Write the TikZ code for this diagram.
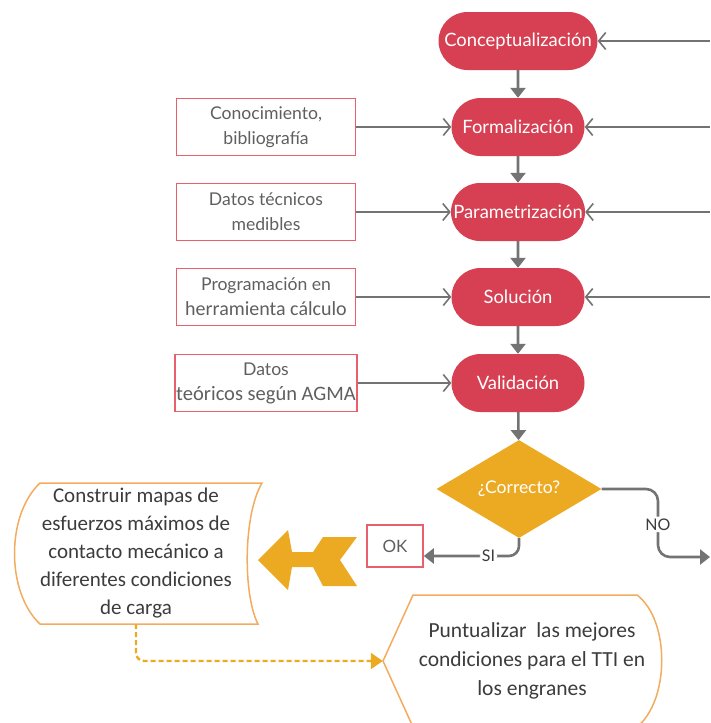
\documentclass[tikz,border=0pt]{standalone}
\usepackage{fontspec}
\setmainfont{Lato}
\newfontfamily\calfont{Carlito}
\usetikzlibrary{shapes.geometric,shapes.misc,arrows.meta}
\definecolor{pillred}{RGB}{214,64,82}
\definecolor{boxred}{RGB}{232,96,108}
\definecolor{arrgray}{RGB}{115,115,115}
\definecolor{txtgray}{RGB}{95,95,95}
\definecolor{darktxt}{RGB}{60,60,60}
\definecolor{gold}{RGB}{236,170,34}
\definecolor{lightorange}{RGB}{243,172,95}
\begin{document}
\begin{tikzpicture}[x=1pt,y=-1pt,
  pillbox/.style={rounded rectangle, fill=pillred, text=white,
    font=\fontsize{18.4}{20}\selectfont, minimum height=58pt, inner xsep=2pt},
  inbox/.style={draw=boxred, line width=1.6pt, minimum width=179pt,
    minimum height=57pt, align=center, text=txtgray,
    font=\fontsize{17.6}{25}\selectfont, inner sep=1pt},
  inarrow/.style={draw=arrgray, line width=2.4pt,
    -{Straight Barb[length=7pt,width=17pt,line width=1.6pt]}},
  downarrow/.style={draw=arrgray, line width=2.6pt,
    -{Triangle[length=10pt,width=15pt]}},
  lbl/.style={fill=white, text=darktxt, inner sep=2pt,
    font=\fontsize{16}{18}\selectfont},
  outline/.style={draw=lightorange, line width=1.5pt},
  dashline/.style={draw=gold, line width=2.4pt, dash pattern=on 5pt off 3pt,
    rounded corners=8pt, -{Triangle[length=12pt,width=16pt]}}
]
\useasboundingbox (0,0) rectangle (710,723);

% main pills
\node[pillbox, minimum width=163pt] (C) at (518,41) {Conceptualización};
\node[pillbox, minimum width=137pt] (F) at (518,127) {Formalización};
\node[pillbox, minimum width=138pt] (P) at (518,212) {Parametrización};
\node[pillbox, minimum width=137pt] (S) at (518,297) {Solución};
\node[pillbox, minimum width=137pt] (V) at (518,383) {Validación};

% input boxes
\node[inbox] (B1) at (266,127) {Conocimiento,\\bibliografía};
\node[inbox] (B2) at (266,212) {Datos técnicos\\medibles};
\node[inbox] (B3) at (266,297) {Programación en\\{\calfont\fontsize{20}{25}\selectfont herramienta cálculo}};
\node[inbox] (B4) at (266,383) {Datos\\{\calfont\fontsize{20.5}{25}\selectfont teóricos según AGMA}};

% right-side entry points
\coordinate (R1) at (710,41);
\coordinate (R2) at (710,127);
\coordinate (R3) at (710,212);
\coordinate (R4) at (710,297);

\draw[inarrow] (R1) -- (C.east);
\draw[inarrow] (R2) -- (F.east);
\draw[inarrow] (R3) -- (P.east);
\draw[inarrow] (R4) -- (S.east);

\draw[inarrow] (B1.east) -- (F.west);
\draw[inarrow] (B2.east) -- (P.west);
\draw[inarrow] (B3.east) -- (S.west);
\draw[inarrow] (B4.east) -- (V.west);

% vertical chain
\draw[downarrow] (C) -- (F);
\draw[downarrow] (F) -- (P);
\draw[downarrow] (P) -- (S);
\draw[downarrow] (S) -- (V);

% decision
\node[diamond, fill=gold, minimum width=165pt, minimum height=72pt,
  inner sep=0pt, text=white, font=\fontsize{17.5}{19}\selectfont] (D) at (519,489) {¿Correcto?};
\draw[downarrow] (V) -- (D);

% OK box
\node[draw=boxred, line width=1.6pt, minimum width=56pt, minimum height=42pt,
  text=txtgray, font=\fontsize{17}{19}\selectfont] (OK) at (395,546) {OK};

% SI branch
\draw[downarrow, rounded corners=10pt] (D.south) |- ([yshift=-10pt]OK.east)
  node[lbl, pos=0.66] {SI};

% NO branch
\coordinate (NOend) at (710,557);
\draw[downarrow, rounded corners=12pt] (D.east) -| ([xshift=-52pt]NOend)
  node[lbl, pos=0.76] {NO} -- (NOend);

% big orange arrow
\fill[gold] (258,560) -- (288,530) -- (292,552) -- (313,552) -- (323,537)
  -- (357,537) -- (340,560) -- (357,586) -- (323,586) -- (313,567)
  -- (292,567) -- (288,590) -- cycle;

% Construir (stored-data shape)
\node[align=center, text=darktxt, font=\calfont\fontsize{21}{28}\selectfont,
  minimum width=222pt, minimum height=141pt, inner sep=0pt] (build) at (136,553.5)
  {Construir mapas de\\esfuerzos máximos de\\contacto mecánico a\\diferentes condiciones\\de carga};
\draw[outline] (40,483) -- (262,483) .. controls (243,515) and (243,595) .. (258,624)
  -- (40,624) .. controls (6,592) and (6,515) .. (40,483) -- cycle;

% Puntualizar (display shape)
\node[align=center, text=darktxt, font=\calfont\fontsize{21.5}{29}\selectfont,
  minimum width=298pt, inner sep=0pt] (punt) at (532,661)
  {Puntualizar\ \ las mejores\\condiciones para el TTI en\\los engranes};
\draw[outline] (383,661) -- (413,595) -- (637,595) .. controls (670,620) and (670,700) .. (637,727)
  -- (413,727) -- cycle;

\draw[dashline] (build.south) |- (punt.west);
\end{tikzpicture}
\end{document}
